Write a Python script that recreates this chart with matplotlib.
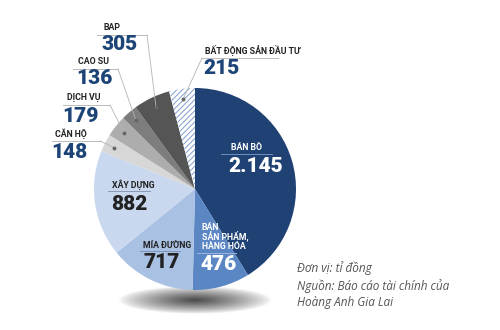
import numpy as np
import matplotlib
matplotlib.use("Agg")
import matplotlib.pyplot as plt

# Data (tỉ đồng), clockwise from top
categories = ["BÁN BÒ", "BÁN\nSẢN PHẨM,\nHÀNG HÓA", "MÍA ĐƯỜNG", "XÂY DỰNG", "CĂN HỘ",
              "DỊCH VỤ", "CAO SU", "BAP", "BẤT ĐỘNG SẢN ĐẦU TƯ"]
values = [2145, 476, 717, 882, 148, 179, 136, 305, 215]
value_labels = ["2.145", "476", "717", "882", "148", "179", "136", "305", "215"]

colors = ["#1f4173", "#5b86c4", "#a9c1e3", "#c9d8ef", "#d7d7d7",
          "#adadad", "#7d7d7d", "#555555", "white"]

# no condensed face installed, Roboto is the narrowest one
FONT = ["Roboto", "DejaVu Sans"]
NAME_FS, VAL_FS = 6.3, 15

W, H = 500, 330
fig = plt.figure(figsize=(5, 3.3), dpi=100)
ax = fig.add_axes([0, 0, 1, 1])


def Y(y):
    return H - y


cx, cy, r = 195, Y(189), 101

# shadow under the pie
gx, gy = np.meshgrid(np.linspace(-1, 1, 200), np.linspace(-1, 1, 60))
alpha = np.clip(1 - np.sqrt(gx ** 2 + gy ** 2), 0, 1) ** 0.8
img = np.zeros((60, 200, 4))
img[..., :3] = 0.25
img[..., 3] = alpha * 0.95
ax.imshow(img, extent=(118, 272, Y(314), Y(286)), aspect="auto", zorder=0,
          interpolation="bilinear")

plt.rcParams["hatch.linewidth"] = 0.7
wedges, _ = ax.pie(values, colors=colors, startangle=90, counterclock=False,
                   center=(cx, cy), radius=r, frame=True,
                   wedgeprops=dict(linewidth=0))
ax.set_xlim(0, W)
ax.set_ylim(0, H)
ax.set_aspect("equal")
ax.axis("off")
for w in wedges:
    w.set_zorder(2)

hatch_w = wedges[-1]
hatch_w.set_edgecolor("#7f9dcc")
hatch_w.set_linewidth(0)
hatch_w.set_hatch("//////")

NAVY = "#1d4477"
DARK = "#222222"

# label layout (pixel coords): name pos, underline, value pos, colours, leader start
labels = [
    (7, (104, 27), (97, 147, 35), (102, 45), DARK, NAVY, "#bbbbbb", (147, 35)),
    (6, (78, 62), (73, 118, 69), (76, 79), DARK, NAVY, "#bbbbbb", (118, 69)),
    (5, (67, 98), (63, 110, 105), (62, 116), DARK, NAVY, "#bbbbbb", (110, 105)),
    (4, (55, 134), (52, 100, 141), (51, 152), DARK, NAVY, "#bbbbbb", (100, 141)),
    (8, (205, 51), (202, 278, 58), (203, 69), DARK, NAVY, "#bbbbbb", (202, 58)),
    (0, (231, 148), (221, 272, 154), (228, 167), "white", "white", "#6f8fbf", None),
    (3, (112, 185), (108, 150, 191), (111, 204), DARK, DARK, "#8a9ab5", None),
    (2, (143, 245), (140, 180, 251), (144, 263), DARK, DARK, "#7d93b8", None),
    (1, (202, 237), (197, 236, 253), (200, 264), "white", "white", "#9fb6de", None),
]

for idx, (nx, ny), (lx0, lx1, ly), (vx, vy), nc, vc, lc, lead in labels:
    ax.text(nx, Y(ny), categories[idx], ha="left", va="center", fontsize=NAME_FS,
            fontweight="bold", color=nc, family=FONT, linespacing=0.9, zorder=5)
    ax.plot([lx0, lx1], [Y(ly), Y(ly)], color=lc, lw=0.7, zorder=4)
    ax.text(vx, Y(vy), value_labels[idx], ha="left", va="center", fontsize=VAL_FS,
            fontweight="heavy", color=vc, family=FONT, zorder=5)
    if lead is not None:
        w = wedges[idx]
        mid = np.deg2rad((w.theta1 + w.theta2) / 2)
        px = cx + 0.9 * r * np.cos(mid)
        py = cy + 0.9 * r * np.sin(mid)
        ax.plot([lead[0], px], [Y(lead[1]), py], color="#b5b5b5", lw=0.6, zorder=4)
        ax.plot(px, py, "o", ms=1.8, color="#666666", zorder=4)

ax.text(297, Y(261), "Đơn vị: tỉ đồng\nNguồn: Báo cáo tài chính của\nHoàng Anh Gia Lai",
        ha="left", va="top", fontsize=8.5, style="italic", color="#555555",
        family=["Open Sans", "DejaVu Sans"], linespacing=1.35)

fig.savefig("out.png", dpi=100, facecolor="white")
